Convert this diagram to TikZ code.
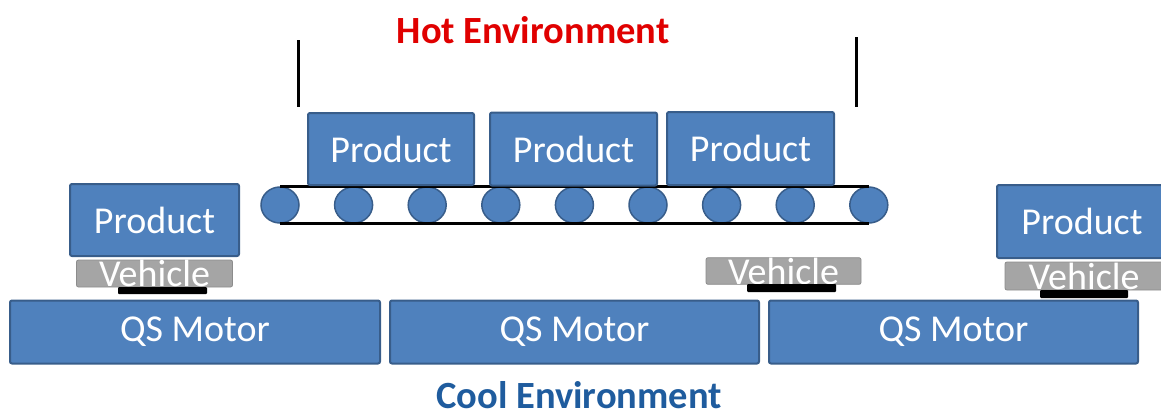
\documentclass[tikz,border=0pt]{standalone}
\usepackage{fontspec}
\setmainfont{Carlito}
\definecolor{boxblue}{HTML}{4F81BD}
\definecolor{boxedge}{HTML}{385D8A}
\definecolor{vehgray}{HTML}{A5A5A5}
\definecolor{vehedge}{HTML}{8C8C8C}
\definecolor{hotred}{HTML}{E00000}
\definecolor{coolblue}{HTML}{1F5C9E}
\tikzset{
  bigtext/.style={font=\fontsize{38}{40}\selectfont},
  bluebox/.style={bigtext, draw=boxedge, fill=boxblue, line width=2pt,
    rounded corners=2pt, text=white, inner sep=0pt},
  vehbox/.style={bigtext, draw=vehedge, fill=vehgray, line width=0.8pt,
    rounded corners=2pt, text=white, inner sep=0pt},
  wheelbar/.style={fill=black, draw=none, rounded corners=1pt, inner sep=0pt},
  roller/.style={ellipse, draw=boxedge, fill=boxblue, line width=1.5pt,
    minimum width=38pt, minimum height=36pt, inner sep=0pt},
  belt/.style={line width=3pt, black},
  bracket/.style={line width=3pt, black},
  envlabel/.style={font=\fontsize{38.5}{40}\selectfont\bfseries, inner sep=0pt,
    text depth=0pt},
}
\usetikzlibrary{shapes.geometric}
\begin{document}
\begin{tikzpicture}[x=1pt, y=-1pt]
  \useasboundingbox (0,0) rectangle (1161,416);

  % labels
  \node[envlabel, text=hotred] (hot) at (533,30) {Hot Environment};
  \node[envlabel, text=coolblue] (cool) at (579,395) {Cool Environment};

  % hot zone brackets
  \coordinate (hlt) at (298,40);
  \coordinate (hlb) at (298,107);
  \coordinate (hrt) at (856,37);
  \coordinate (hrb) at (856,107);
  \draw[bracket] (hlt) -- (hlb);
  \draw[bracket] (hrt) -- (hrb);

  % conveyor rollers
  \foreach \i in {0,...,8} {
    \node[roller] (r\i) at ({280+73.6*\i},205) {};
  }
  \draw[belt] (r0.north) -- (r8.north);
  \draw[belt] (r0.south) -- (r8.south);

  % products on the conveyor
  \node[bluebox, minimum width=166pt, minimum height=72pt] (p1) at (391,149) {Product};
  \node[bluebox, minimum width=167pt, minimum height=73pt] (p2) at (573.5,149) {Product};
  \node[bluebox, minimum width=167pt, minimum height=73pt] (p3) at (750.5,148.5) {Product};

  % left carrier
  \node[bluebox, minimum width=169pt, minimum height=72pt] (pL) at (154.5,220) {Product};
  \node[vehbox, minimum width=156pt, minimum height=27pt] (vL) at (154.5,273.5) {Vehicle};
  \node[wheelbar, minimum width=89pt, minimum height=7pt] (bL) at (162.5,290.5) {};

  % middle carrier
  \node[vehbox, minimum width=155pt, minimum height=26pt] (vM) at (783.5,271) {Vehicle};
  \node[wheelbar, minimum width=89pt, minimum height=8pt] (bM) at (791.5,288) {};

  % right carrier
  \node[bluebox, minimum width=170pt, minimum height=73pt] (pR) at (1082,221.5) {Product};
  \node[vehbox, minimum width=158pt, minimum height=28pt] (vR) at (1084,276) {Vehicle};
  \node[wheelbar, minimum width=88pt, minimum height=8pt] (bR) at (1084,294) {};

  % motors
  \node[bluebox, minimum width=370pt, minimum height=63pt] (m1) at (195,332) {QS Motor};
  \node[bluebox, minimum width=369pt, minimum height=63pt] (m2) at (574.5,332) {QS Motor};
  \node[bluebox, minimum width=369pt, minimum height=63pt] (m3) at (953.5,332) {QS Motor};
\end{tikzpicture}
\end{document}
